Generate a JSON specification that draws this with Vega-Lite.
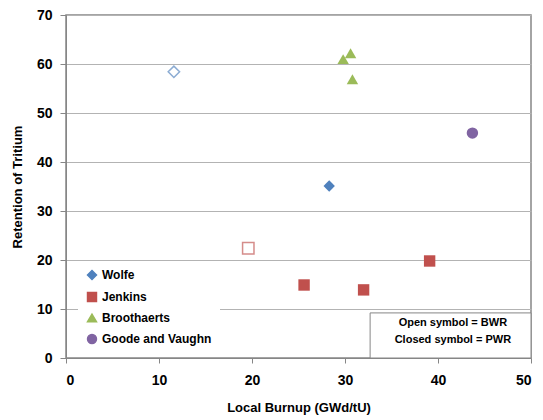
{
  "$schema": "https://vega.github.io/schema/vega-lite/v6.json",
  "autosize": "none",
  "width": 465,
  "height": 343,
  "padding": {"left": 66, "top": 15, "right": 12, "bottom": 62},
  "background": "white",
  "config": {
    "font": "Liberation Sans",
    "view": {"stroke": "#868686", "strokeWidth": 1.5},
    "axis": {"labelFont": "Liberation Sans", "titleFont": "Liberation Sans", "labelFontWeight": "bold", "titleFontWeight": "bold", "labelFontSize": 14, "titleFontSize": 13, "labelColor": "#000", "titleColor": "#000", "domainColor": "#868686", "tickColor": "#868686", "gridColor": "#b3b3b3", "gridWidth": 1.2}
  },
  "datasets": {
    "pts": [
      {"series": "Wolfe", "type": "open", "burnup": 11.6, "retention": 58.4},
      {"series": "Wolfe", "type": "closed", "burnup": 28.3, "retention": 35.1},
      {"series": "Jenkins", "type": "open", "burnup": 19.6, "retention": 22.4},
      {"series": "Jenkins", "type": "closed", "burnup": 25.6, "retention": 14.9},
      {"series": "Jenkins", "type": "closed", "burnup": 32.0, "retention": 13.9},
      {"series": "Jenkins", "type": "closed", "burnup": 39.1, "retention": 19.8},
      {"series": "Broothaerts", "type": "closed", "burnup": 29.8, "retention": 61.0},
      {"series": "Broothaerts", "type": "closed", "burnup": 30.6, "retention": 62.2},
      {"series": "Broothaerts", "type": "closed", "burnup": 30.8, "retention": 56.9},
      {"series": "Goode and Vaughn", "type": "closed", "burnup": 43.7, "retention": 45.9}
    ],
    "box": [{"x1": 32.7, "x2": 50, "y1": 0, "y2": 9.2}],
    "notes": [
      {"label": "Open symbol = BWR", "x": 41.6, "y": 7.2},
      {"label": "Closed symbol = PWR", "x": 41.6, "y": 3.6}
    ]
  },
  "layer": [
    {
      "data": {"name": "box"},
      "mark": {"type": "rect", "fill": "white", "stroke": "#868686", "strokeWidth": 1},
      "encoding": {
        "x": {"field": "x1", "type": "quantitative", "scale": {"domain": [0, 50]}, "axis": {"values": [0, 10, 20, 30, 40, 50], "grid": false, "title": "Local Burnup (GWd/tU)", "tickSize": 5, "labelPadding": 10, "titlePadding": 14}},
        "x2": {"field": "x2"},
        "y": {"field": "y1", "type": "quantitative", "scale": {"domain": [0, 70]}, "axis": {"values": [0, 10, 20, 30, 40, 50, 60, 70], "grid": true, "title": "Retention of Tritium", "tickSize": 6, "labelPadding": 8, "titlePadding": 12}},
        "y2": {"field": "y2"}
      }
    },
    {
      "data": {"name": "notes"},
      "mark": {"type": "text", "font": "Liberation Sans", "fontWeight": "bold", "fontSize": 11, "color": "#000"},
      "encoding": {
        "x": {"field": "x", "type": "quantitative"},
        "y": {"field": "y", "type": "quantitative"},
        "text": {"field": "label"}
      }
    },
    {
      "data": {"name": "pts"},
      "transform": [{"filter": "datum.type === 'closed'"}],
      "mark": {"type": "point", "filled": true, "opacity": 1, "size": 130},
      "encoding": {
        "x": {"field": "burnup", "type": "quantitative"},
        "y": {"field": "retention", "type": "quantitative"},
        "color": {"field": "series", "type": "nominal",
          "scale": {"domain": ["Wolfe", "Jenkins", "Broothaerts", "Goode and Vaughn"], "range": ["#4F81BD", "#C0504D", "#9BBB59", "#8064A2"]},
          "legend": {"title": null, "orient": "none", "legendX": 12, "legendY": 246, "fillColor": "white", "padding": 8, "labelFont": "Liberation Sans", "labelFontWeight": "bold", "labelFontSize": 12, "labelColor": "#000", "symbolSize": 80, "rowPadding": 6, "symbolOpacity": 1, "labelLimit": 200}},
        "shape": {"field": "series", "type": "nominal",
          "scale": {"domain": ["Wolfe", "Jenkins", "Broothaerts", "Goode and Vaughn"], "range": ["diamond", "square", "triangle-up", "circle"]}}
      }
    },
    {
      "data": {"name": "pts"},
      "transform": [{"filter": "datum.type === 'open'"}],
      "mark": {"type": "point", "filled": false, "opacity": 0.65, "size": 130, "strokeWidth": 1.5},
      "encoding": {
        "x": {"field": "burnup", "type": "quantitative"},
        "y": {"field": "retention", "type": "quantitative"},
        "color": {"field": "series", "type": "nominal", "legend": null},
        "shape": {"field": "series", "type": "nominal", "legend": null}
      }
    }
  ]
}
